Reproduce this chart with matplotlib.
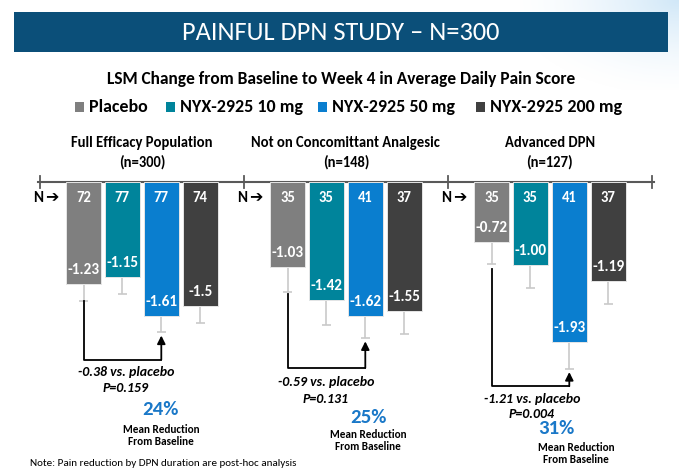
"""
Painful DPN study - LSM change from baseline bar chart
"""
import numpy as np
import matplotlib
matplotlib.use("Agg")
import matplotlib.pyplot as plt
from matplotlib.patches import Rectangle

# ---- data ----
groups = ["Full Efficacy Population", "Not on Concomittant Analgesic", "Advanced DPN"]
group_n = ["(n=300)", "(n=148)", "(n=127)"]
arms = ["Placebo", "NYX-2925 10 mg", "NYX-2925 50 mg", "NYX-2925 200 mg"]
arm_colors = ["#7f7f7f", "#00849b", "#0a7ecf", "#404040"]

full_n = [72, 77, 77, 74]
full_lsm = [-1.23, -1.15, -1.61, -1.5]
full_se = [0.20, 0.20, 0.20, 0.20]

noanalg_n = [35, 35, 41, 37]
noanalg_lsm = [-1.03, -1.42, -1.62, -1.55]
noanalg_se = [0.29, 0.30, 0.26, 0.28]

adv_n = [35, 35, 41, 37]
adv_lsm = [-0.72, -1.00, -1.93, -1.19]
adv_se = [0.27, 0.28, 0.32, 0.28]

diff_text = ["-0.38 vs. placebo", "-0.59 vs. placebo", "-1.21 vs. placebo"]
p_text = ["P=0.159", "P=0.131", "P=0.004"]
pct_text = ["24%", "25%", "31%"]

n_values = [full_n, noanalg_n, adv_n]
lsm_values = [full_lsm, noanalg_lsm, adv_lsm]
se_values = [full_se, noanalg_se, adv_se]
lsm_labels = [["-1.23", "-1.15", "-1.61", "-1.5"],
              ["-1.03", "-1.42", "-1.62", "-1.55"],
              ["-0.72", "-1.00", "-1.93", "-1.19"]]

# ---- layout (pixels) ----
W, H = 679, 469
AXIS_PY = 182          # y pixel of zero line
PX_PER_UNIT = 83.0     # pixels per pain-score unit
BAR_STEP = 38.9        # pixels between bars
GROUP_STEP = 204.0     # pixels between groups
FIRST_BAR_PX = 83.5    # center of first bar
FONT = ["Carlito", "DejaVu Sans"]

fig = plt.figure(figsize=(W / 100, H / 100), dpi=100)
fig.patch.set_facecolor("white")


def fx(px):
    return px / W


def fy(py):
    return 1 - py / H


# faint light-blue glow in top right corner
glow = fig.add_axes([fx(520), fy(90), fx(159), 90 / H], zorder=0)
gx, gy = np.meshgrid(np.linspace(0, 1, 80), np.linspace(0, 1, 60))
g = np.clip(1 - np.hypot(1 - gx, 1 - gy) / 1.1, 0, 1) ** 1.6
rgba = np.zeros(g.shape + (4,))
rgba[..., 0], rgba[..., 1], rgba[..., 2] = 0.80, 0.90, 0.97
rgba[..., 3] = g * 0.9
glow.imshow(rgba, origin="lower", aspect="auto", extent=[0, 1, 0, 1])
glow.axis("off")

# title banner
fig.patches.append(Rectangle((fx(14), fy(52)), fx(654), 40 / H, transform=fig.transFigure,
                             facecolor="#0b4f79", edgecolor="none", zorder=1))
fig.text(fx(341), fy(33), "PAINFUL DPN STUDY \u2013 N=300", color="white", fontsize=19,
         ha="center", va="center", family=FONT, zorder=2)
fig.text(fx(341), fy(79), "LSM Change from Baseline to Week 4 in Average Daily Pain Score",
         fontsize=12.5, fontweight="bold", ha="center", va="center", family=FONT)

# legend row
leg_x = [75, 166, 318, 476]
for x, lab, c in zip(leg_x, arms, arm_colors):
    fig.patches.append(Rectangle((fx(x), fy(112)), fx(9), 10 / H, transform=fig.transFigure,
                                 facecolor=c, edgecolor="none"))
    fig.text(fx(x + 14), fy(107), lab, fontsize=13, fontweight="bold", ha="left",
             va="center", family=FONT)

# main axes mapped onto the whole figure
ax = fig.add_axes([0, 0, 1, 1], zorder=3)
ax.patch.set_alpha(0)
ax.set_xlim(-FIRST_BAR_PX / BAR_STEP, (W - FIRST_BAR_PX) / BAR_STEP)
ax.set_ylim(-(H - AXIS_PY) / PX_PER_UNIT, AXIS_PY / PX_PER_UNIT)
ax.axis("off")

g_step = GROUP_STEP / BAR_STEP
bounds = [(1.5 - g_step / 2) + k * g_step for k in range(4)]
ax.plot([bounds[0] - 0.05, bounds[-1] + 0.05], [0, 0], color="#595959", lw=1.5, zorder=2)
for b in bounds:
    ax.plot([b, b], [-0.07, 0.07], color="#595959", lw=1.3, zorder=2)

bracket_y = [-2.14, -2.24, -2.46]
for gi in range(3):
    xs = np.arange(4) + gi * g_step
    vals = np.array(lsm_values[gi])
    errs = np.array(se_values[gi])
    ax.bar(xs, vals, width=0.9, color=arm_colors, edgecolor="#e6e6e6", lw=0.7, zorder=3)
    ends = vals - errs
    ax.vlines(xs, vals, ends, color="#c9c9c9", lw=1.2, zorder=2)
    ax.hlines(ends, xs - 0.12, xs + 0.12, color="#c9c9c9", lw=1.2, zorder=2)
    for x, n, v, lab in zip(xs, n_values[gi], vals, lsm_labels[gi]):
        ax.text(x, -0.19, str(n), color="white", fontsize=10.5, fontweight="bold",
                ha="center", va="center", family=FONT, zorder=4)
        ax.text(x, v + 0.17, lab, color="white", fontsize=11, fontweight="bold",
                ha="center", va="center", family=FONT, zorder=4)
    ax.text(bounds[gi] - 0.05, -0.19, "N", fontsize=11, fontweight="bold", ha="center",
            va="center", family=FONT, zorder=4)
    ax.text(bounds[gi] + 0.31, -0.19, "\u2794", fontsize=11.5, ha="center",
            va="center", family=["DejaVu Sans"], zorder=4)

    # bracket from placebo to 50 mg
    by = bracket_y[gi]
    ax.plot([xs[0], xs[0], xs[2]], [ends[0] - 0.03 * gi, by, by], color="black", lw=1.3, zorder=2)
    ax.annotate("", xy=(xs[2], ends[2] - 0.04), xytext=(xs[2], by),
                arrowprops=dict(arrowstyle="-|>", color="black", lw=1.3, mutation_scale=12,
                                shrinkA=0, shrinkB=0), zorder=2)

    # group titles
    gc = fx(FIRST_BAR_PX + 1.5 * BAR_STEP + gi * GROUP_STEP)
    fig.text(gc, fy(143), groups[gi], fontsize=10.5, fontweight="bold", ha="center",
             va="center", family=FONT)
    fig.text(gc, fy(162), group_n[gi], fontsize=10.5, fontweight="bold", ha="center",
             va="center", family=FONT)

# annotations under brackets (pixel positions)
diff_pos = [(126, 372), (326, 382), (532, 399)]
p_pos = [(126, 388), (326, 399), (532, 414)]
pct_pos = [(160, 409), (368, 417), (556, 428)]
mr_pos = [(161, 429), (368, 434), (576, 447)]
for gi in range(3):
    fig.text(fx(diff_pos[gi][0]), fy(diff_pos[gi][1]), diff_text[gi], fontsize=10,
             fontweight="bold", style="italic", ha="center", va="center", family=FONT)
    fig.text(fx(p_pos[gi][0]), fy(p_pos[gi][1]), p_text[gi], fontsize=10,
             fontweight="bold", style="italic", ha="center", va="center", family=FONT)
    fig.text(fx(pct_pos[gi][0]), fy(pct_pos[gi][1]), pct_text[gi], fontsize=15,
             fontweight="bold", color="#1a78c8", ha="center", va="center", family=FONT)
    fig.text(fx(mr_pos[gi][0]), fy(mr_pos[gi][1]), "Mean Reduction", fontsize=8,
             fontweight="bold", ha="center", va="center", family=FONT)
    fig.text(fx(mr_pos[gi][0]), fy(mr_pos[gi][1] + 12), "From Baseline", fontsize=8,
             fontweight="bold", ha="center", va="center", family=FONT)

# footnote along the bottom edge
fig.text(fx(30), fy(468), "Note: Pain reduction by DPN duration are post-hoc analysis",
         fontsize=8, ha="left", va="bottom", family=FONT)

fig.savefig("out.png", dpi=100)
